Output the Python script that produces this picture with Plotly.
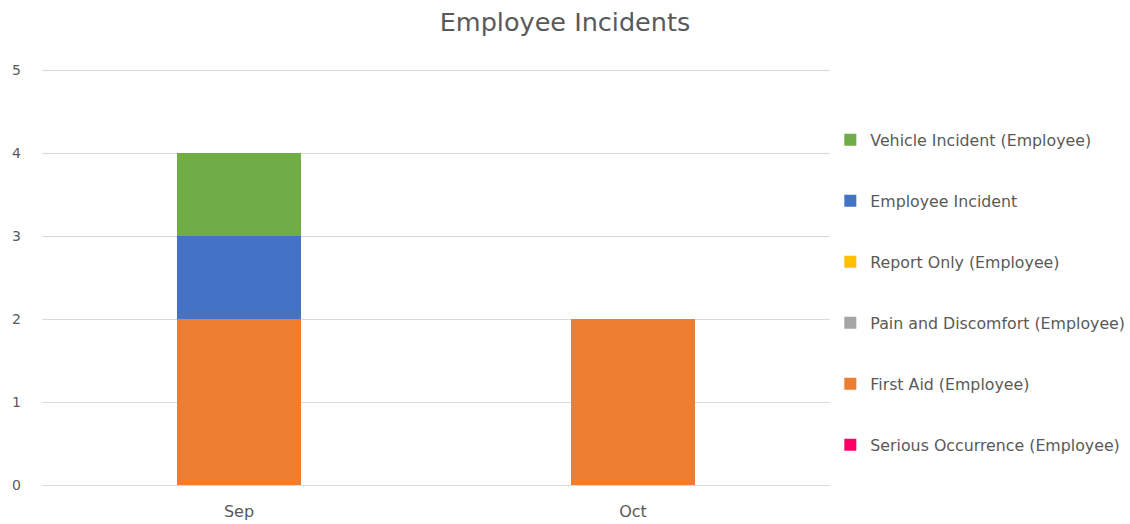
import plotly.graph_objects as go

months = ["Sep", "Oct"]
serious_occurrence = [0, 0]
first_aid = [2, 2]
pain_discomfort = [0, 0]
report_only = [0, 0]
employee_incident = [1, 0]
vehicle_incident = [1, 0]

# (name, values, colour, legend slot from top)
series = [
    ("Serious Occurrence (Employee)", serious_occurrence, "#FF0066", 5),
    ("First Aid (Employee)", first_aid, "#ED7D31", 4),
    ("Pain and Discomfort (Employee)", pain_discomfort, "#A5A5A5", 3),
    ("Report Only (Employee)", report_only, "#FFC000", 2),
    ("Employee Incident", employee_incident, "#4472C4", 1),
    ("Vehicle Incident (Employee)", vehicle_incident, "#70AD47", 0),
]

font_family = "DejaVu Sans, Open Sans, sans-serif"
text_color = "#595959"
H = 524
fig = go.Figure()
legends = {}
for name, vals, color, slot in series:
    key = "legend" if slot == 0 else f"legend{slot + 1}"
    fig.add_trace(go.Bar(x=months, y=vals, name=name, marker_color=color,
                         marker_line_width=0, legend=key))
    center = 140 + 61 * slot
    legends[key] = dict(xref="container", yref="container", x=0.7348, xanchor="left",
                        y=1 - center / H, yanchor="middle",
                        font=dict(size=15.8, color=text_color, family=font_family),
                        bgcolor="rgba(0,0,0,0)", itemclick=False, itemdoubleclick=False)

fig.update_layout(
    width=1130, height=H,
    barmode="stack", bargap=0.685,
    paper_bgcolor="white", plot_bgcolor="white",
    margin=dict(l=42, r=300, t=67.5, b=39),
    title=dict(text="Employee Incidents", x=0.5, xref="container", xanchor="center",
               y=1 - 22 / H, yref="container", yanchor="middle",
               font=dict(family=font_family, size=25.5, color=text_color)),
    font=dict(family=font_family, size=13, color=text_color),
    showlegend=True,
    xaxis=dict(showgrid=False, showline=True, linecolor="#D9D9D9", ticks="",
               automargin=False, ticklabelstandoff=12,
               tickfont=dict(size=16, color=text_color)),
    yaxis=dict(range=[0, 5.03], tickvals=[0, 1, 2, 3, 4, 5], showgrid=True,
               gridcolor="#D9D9D9", gridwidth=1, zeroline=False, showline=False,
               ticks="", automargin=False, ticklabelstandoff=20,
               tickfont=dict(size=14, color=text_color)),
    **legends,
)

fig.write_html("out.html", config={"displayModeBar": False},
               post_script="document.body.style.margin='0';")
